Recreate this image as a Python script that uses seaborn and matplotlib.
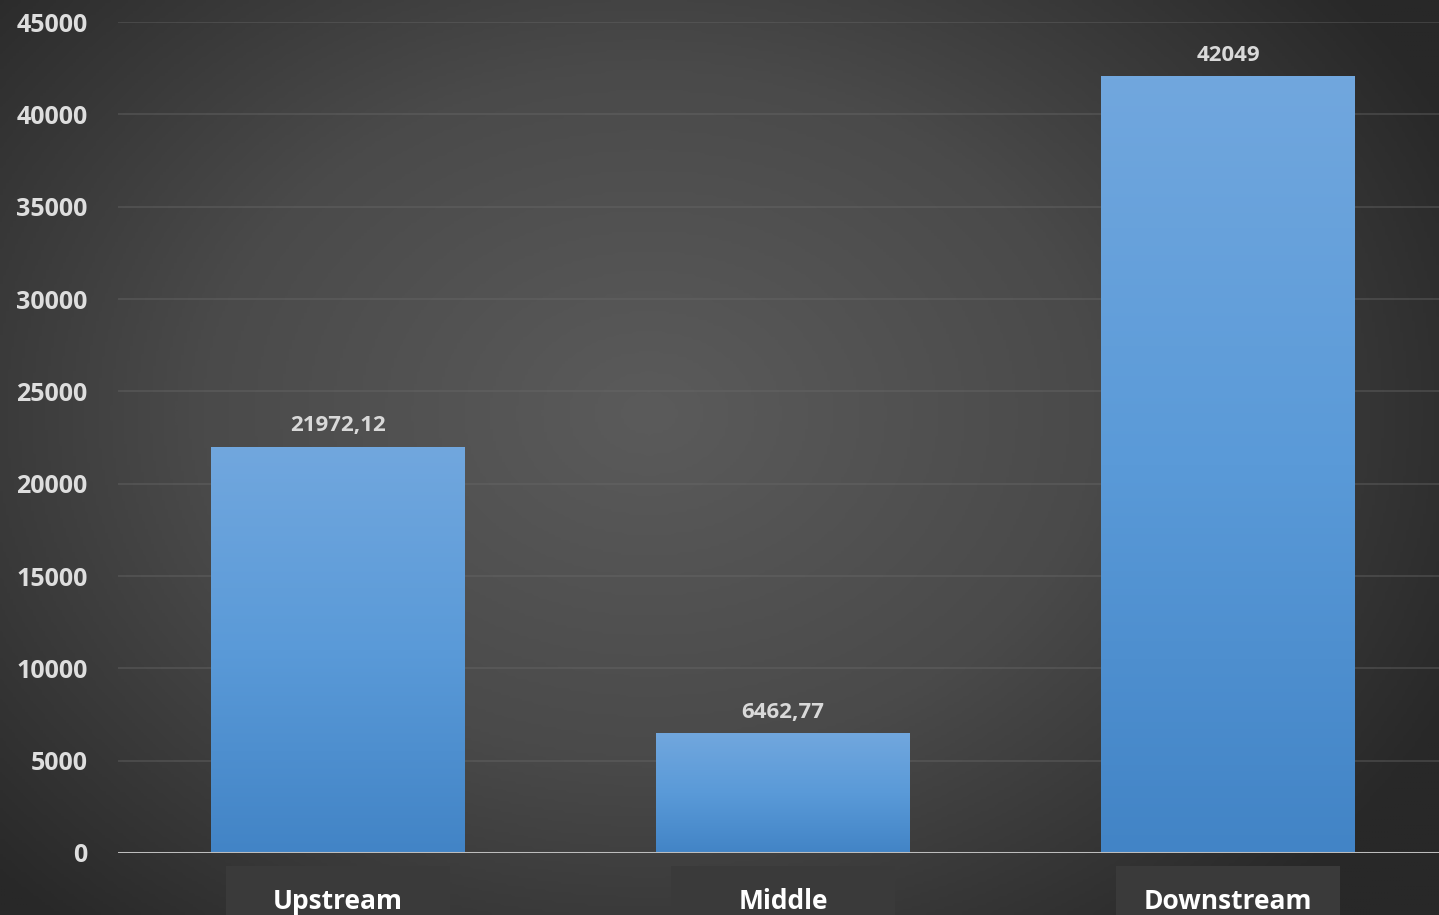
import numpy as np
import pandas as pd
import matplotlib
matplotlib.use("Agg")
import matplotlib.pyplot as plt
import matplotlib.transforms as mtransforms
from matplotlib.colors import LinearSegmentedColormap
from matplotlib.patches import Rectangle
import seaborn as sns

# data
categories = ["Upstream", "Middle", "Downstream"]
values = [21972.12, 6462.77, 42049]
value_labels = ["21972,12", "6462,77", "42049"]
y_ticks = [0, 5000, 10000, 15000, 20000, 25000, 30000, 35000, 40000, 45000]

sns.set_theme(style="dark")
plt.rcParams["font.family"] = ["Open Sans", "DejaVu Sans"]

fig = plt.figure(figsize=(14.39, 9.15), dpi=100)

# radial dark grey background
bg_ax = fig.add_axes([0, 0, 1, 1], zorder=-10)
h, w = 300, 480
yy, xx = np.mgrid[0:h, 0:w]
cx, cy = w * 0.45, h * 0.45
r = np.sqrt(((xx - cx) / (w * 0.62)) ** 2 + ((yy - cy) / (h * 0.75)) ** 2)
r = np.clip(r, 0, 1)
bg_cmap = LinearSegmentedColormap.from_list("bg", ["#5b5b5b", "#4a4a4a", "#282828"])
bg_ax.imshow(r, cmap=bg_cmap, aspect="auto", extent=[0, 1, 0, 1], vmin=0, vmax=1)
bg_ax.set_axis_off()

ax = fig.add_axes([0.082, 0.0678, 0.918, 0.908])
ax.patch.set_alpha(0)

df = pd.DataFrame({"region": categories, "value": values})
sns.barplot(data=df, x="region", y="value", color="#5b9bd5", width=0.57,
            saturation=1, ax=ax, zorder=3)

# vertical gradient on each bar
bar_cmap = LinearSegmentedColormap.from_list("bar", ["#4284c6", "#5a9ad8", "#71a7de"])
grad = np.linspace(0, 1, 256).reshape(-1, 1)
for patch in ax.patches:
    x0, y0 = patch.get_x(), patch.get_y()
    bw, bh = patch.get_width(), patch.get_height()
    patch.set_facecolor("none")
    patch.set_edgecolor("none")
    ax.imshow(grad, cmap=bar_cmap, origin="lower", aspect="auto",
              extent=[x0, x0 + bw, y0, y0 + bh], zorder=3)

ax.set_xlim(-0.494, 2.474)
ax.set_ylim(0, 45000)
ax.set_yticks(y_ticks)
ax.set_yticklabels([str(t) for t in y_ticks])

for t in y_ticks[1:]:
    ax.axhline(t, color="#6a6a6a", lw=1.2, alpha=0.45, zorder=1)
ax.axhline(0, color="#bdbdbd", lw=2.2, zorder=4)

for s in ax.spines.values():
    s.set_visible(False)

ax.tick_params(axis="y", length=0, pad=22, labelcolor="#dedede", labelsize=18)
for lbl in ax.get_yticklabels():
    lbl.set_fontweight("bold")

# category labels with dark boxes
ax.set_xticks([])
ax.set_xlabel("")
ax.set_ylabel("")
trans = mtransforms.blended_transform_factory(ax.transData, ax.transAxes)
for i, name in enumerate(categories):
    ax.add_patch(Rectangle((i - 0.252, -0.08), 0.504, 0.064, transform=trans,
                           facecolor="#3a3a3a", edgecolor="none", clip_on=False, zorder=2))
    ax.text(i, -0.058, name, transform=trans, ha="center", va="center",
            fontsize=19, fontweight="bold", color="white", clip_on=False)

# value labels
for patch, lab in zip(ax.patches, value_labels):
    ax.annotate(lab, (patch.get_x() + patch.get_width() / 2, patch.get_height()),
                xytext=(0, 8), textcoords="offset points", ha="center", va="bottom",
                fontsize=16, fontweight="bold", color="#d9d9d9", zorder=5)

fig.savefig("out.png", dpi=100)
